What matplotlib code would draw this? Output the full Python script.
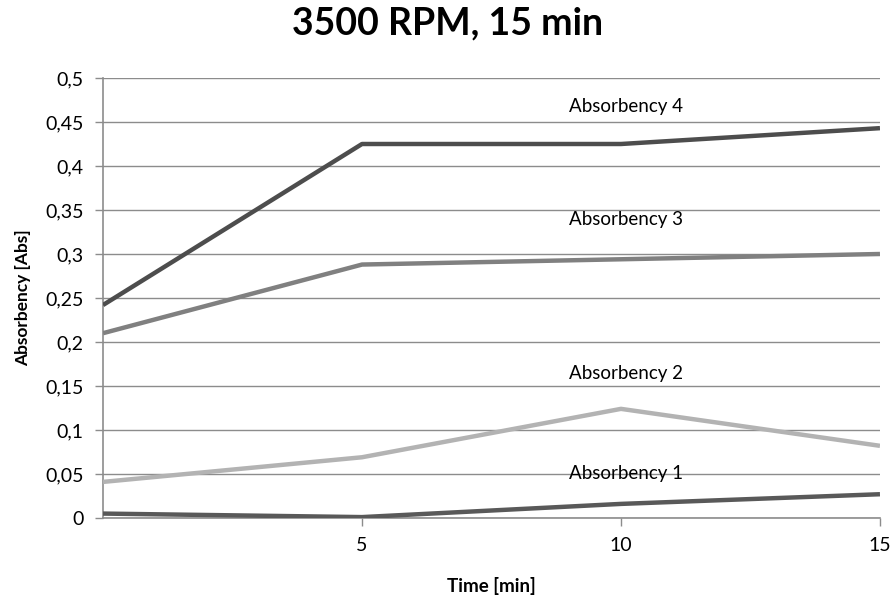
import matplotlib
matplotlib.use("Agg")
import matplotlib.pyplot as plt
from matplotlib.ticker import FuncFormatter, MultipleLocator

plt.rcParams['font.family'] = ['Lato', 'DejaVu Sans']

time_min = [0, 5, 10, 15]
abs1 = [0.005, 0.001, 0.016, 0.027]
abs2 = [0.041, 0.069, 0.124, 0.082]
abs3 = [0.210, 0.288, 0.294, 0.300]
abs4 = [0.242, 0.425, 0.425, 0.443]

series = [
    ("Absorbency 1", abs1, '#595959', 0.050),
    ("Absorbency 2", abs2, '#b3b3b3', 0.164),
    ("Absorbency 3", abs3, '#808080', 0.339),
    ("Absorbency 4", abs4, '#4d4d4d', 0.468),
]

fig = plt.figure(figsize=(8.95, 6), dpi=100)
ax = fig.add_axes([0.1151, 0.1367, 0.8681, 0.7333])

for name, vals, color, label_y in series:
    ax.plot(time_min, vals, color=color, linewidth=3.2, solid_capstyle='butt', zorder=3)
    ax.text(10.1, label_y, name, ha='center', va='center', fontsize=13.5, color='black')

ax.set_xlim(0, 15)
ax.set_ylim(0, 0.5)
ax.set_xticks([5, 10, 15])
ax.yaxis.set_major_locator(MultipleLocator(0.05))
ax.yaxis.set_major_formatter(FuncFormatter(lambda v, p: f"{v:.2f}".rstrip('0').rstrip('.').replace('.', ',')))

ax.grid(axis='y', color='#8c8c8c', linewidth=1.0)
ax.set_axisbelow(True)
for side in ('top', 'right'):
    ax.spines[side].set_visible(False)
for side in ('left', 'bottom'):
    ax.spines[side].set_color('#8c8c8c')
    ax.spines[side].set_linewidth(1.2)
ax.tick_params(axis='both', colors='#8c8c8c', length=6, width=1.0, labelsize=14, labelcolor='black', pad=8)

ax.set_xlabel("Time [min]", fontsize=13.5, fontweight='bold', labelpad=16)
ax.set_ylabel("Absorbency [Abs]", fontsize=12.5, fontweight='bold', labelpad=10)
fig.suptitle("3500 RPM, 15 min", fontsize=27, fontweight='bold', y=0.99)

fig.savefig("out.png", dpi=100)
